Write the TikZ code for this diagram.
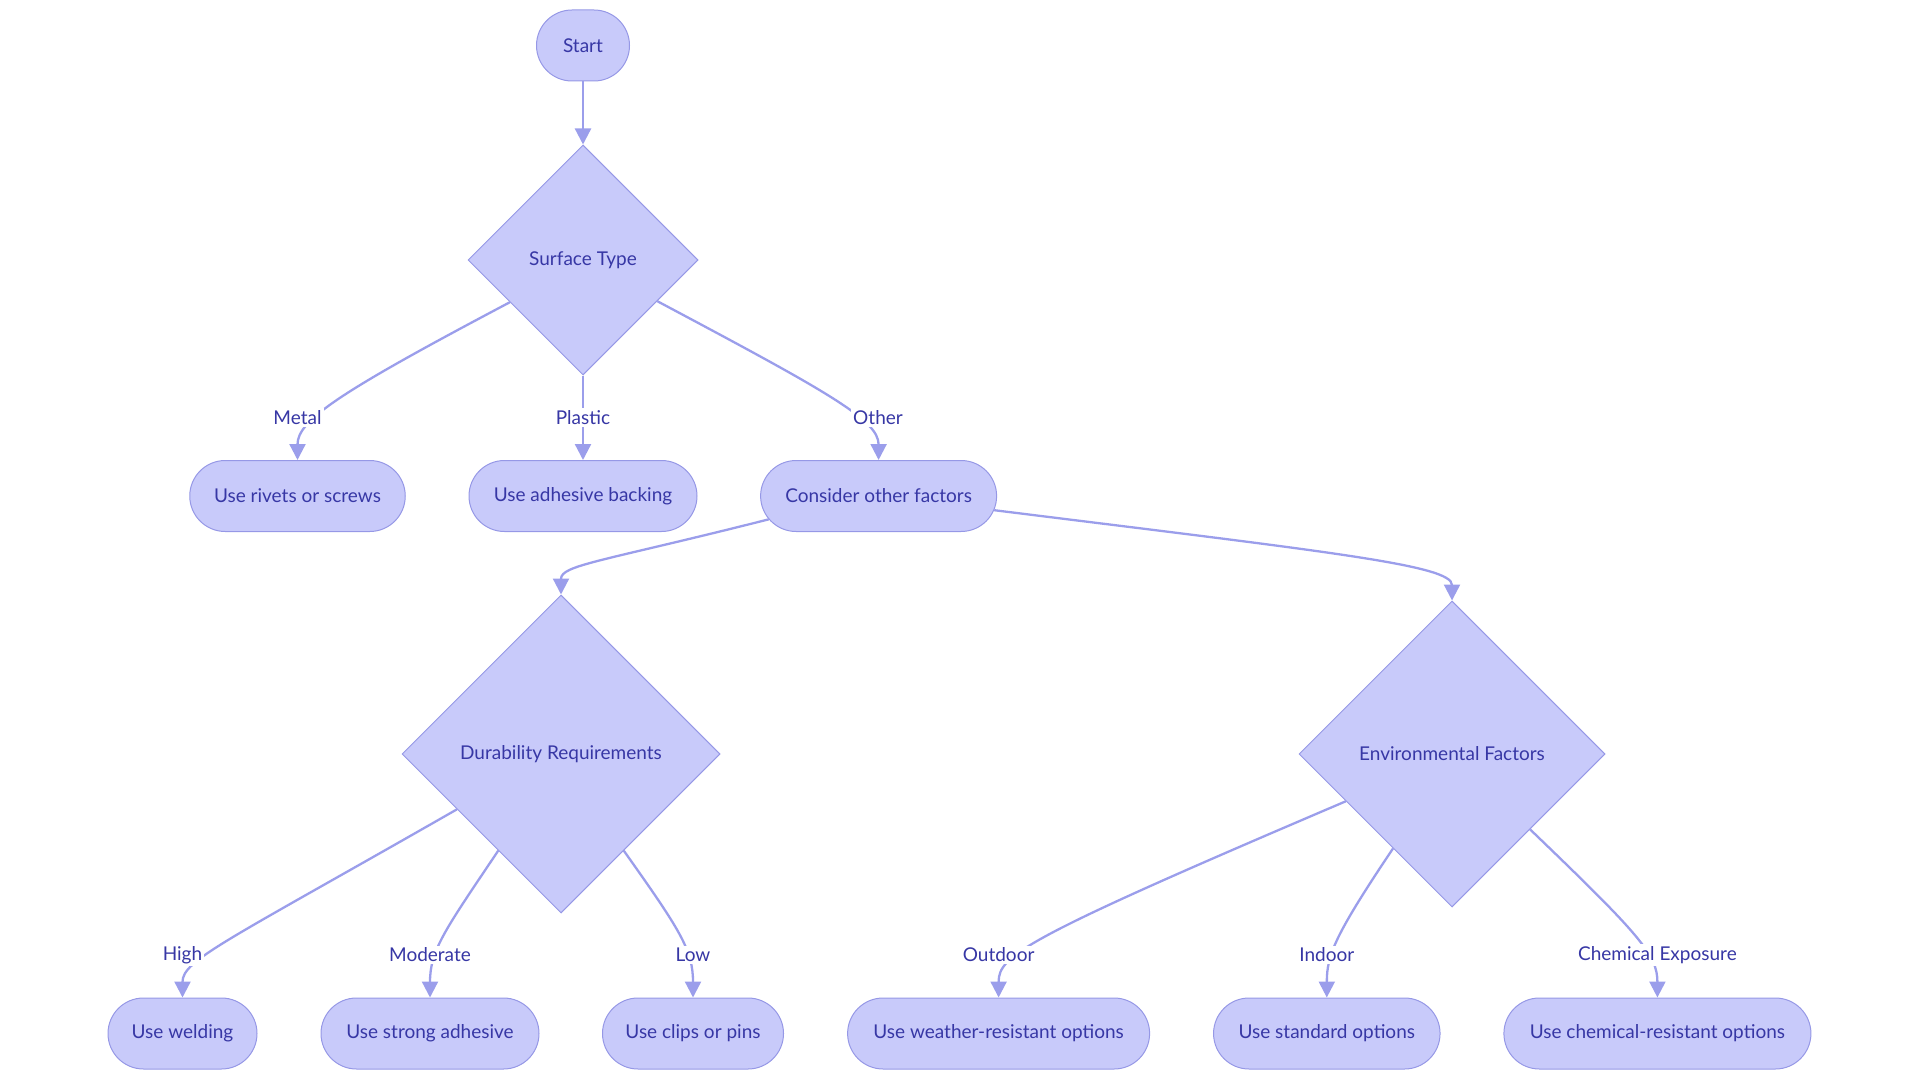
\documentclass[tikz,border=0pt]{standalone}
\usepackage{fontspec}
\setmainfont{Lato}
\usetikzlibrary{shapes.geometric,shapes.misc,arrows.meta}
\definecolor{nfill}{RGB}{200,202,250}
\definecolor{nline}{RGB}{150,152,230}
\definecolor{ntext}{RGB}{55,55,165}
\definecolor{eline}{RGB}{155,158,235}
\begin{document}
\begin{tikzpicture}[x=0.5pt,y=-0.5pt,
  lbl/.style={font=\fontsize{9.5}{11}\selectfont, text=ntext},
  term/.style={lbl, rounded rectangle, draw=nline, fill=nfill, line width=0.5pt, minimum height=35.5pt, inner xsep=0pt},
  dec/.style={lbl, diamond, draw=nline, fill=nfill, line width=0.5pt, aspect=1, inner sep=0pt},
  elabel/.style={lbl, fill=white, inner sep=1pt},
  edge/.style={draw=eline, line width=1.15pt, -{Triangle[length=8pt,width=8pt]}}
]
\useasboundingbox (0,0) rectangle (1920,1080);

% nodes
\node[term, minimum width=46.5pt] (start) at (583,45.5) {Start};
\node[dec, minimum width=115pt, minimum height=115pt] (sd) at (583,260) {Surface Type};
\node[term, minimum width=107.75pt] (rv) at (297.5,496) {Use rivets or screws};
\node[term, minimum width=114pt] (ab) at (583,496) {Use adhesive backing};
\node[term, minimum width=118pt] (co) at (878.6,496) {Consider other factors};
\node[dec, minimum width=159pt, minimum height=159pt] (dr) at (561,754) {Durability Requirements};
\node[dec, minimum width=153pt, minimum height=153pt] (ef) at (1452,754) {Environmental Factors};
\node[term, minimum width=74.5pt] (we) at (182.5,1033.5) {Use welding};
\node[term, minimum width=109pt] (sa) at (430,1033.5) {Use strong adhesive};
\node[term, minimum width=90.5pt] (cp) at (693,1033.5) {Use clips or pins};
\node[term, minimum width=151pt] (wr) at (998.6,1033.5) {Use weather-resistant options};
\node[term, minimum width=113.25pt] (so) at (1326.8,1033.5) {Use standard options};
\node[term, minimum width=153.5pt] (cr) at (1657.4,1033.5) {Use chemical-resistant options};

% edges
\draw[edge] (start.south) -- (sd.north);
\draw[edge] (sd.210) .. controls (340,392) and (297.5,420) .. (rv.north);
\draw[edge] (sd.south) -- (ab.north);
\draw[edge] (sd.331) .. controls (828,392) and (878.6,420) .. (co.north);
\draw[edge] (co.192) .. controls (600,562) and (561,565) .. (dr.north);
\draw[edge] (co.353) .. controls (1330,552) and (1452,565) .. (ef.north);
\draw[edge] (dr.208) .. controls (225,942) and (182.5,960) .. (we.north);
\draw[edge] (dr.237) .. controls (445,930) and (430,950) .. (sa.north);
\draw[edge] (dr.303) .. controls (680,930) and (693,950) .. (cp.north);
\draw[edge] (ef.204) .. controls (1025,938) and (998.6,955) .. (wr.north);
\draw[edge] (ef.238) .. controls (1335,935) and (1326.8,955) .. (so.north);
\draw[edge] (ef.316) .. controls (1640,935) and (1657.4,955) .. (cr.north);

% edge labels
\node[elabel] (lm) at (297.5,417.5) {Metal};
\node[elabel] (lp) at (583,417.5) {Plastic};
\node[elabel] (lo) at (878,417.5) {Other};
\node[elabel] (lh) at (182.5,955) {High};
\node[elabel] (lmo) at (430,955) {Moderate};
\node[elabel] (ll) at (693,955) {Low};
\node[elabel] (lou) at (998.6,955) {Outdoor};
\node[elabel] (li) at (1326.8,955) {Indoor};
\node[elabel] (lc) at (1657.4,955) {Chemical Exposure};
\end{tikzpicture}
\end{document}
